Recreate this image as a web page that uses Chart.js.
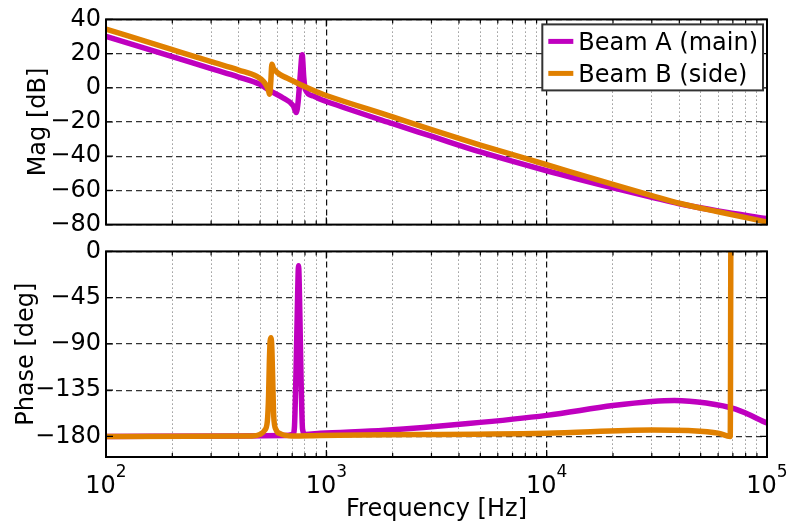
<!DOCTYPE html>
<html>
<head>
<meta charset="utf-8">
<title>Beam response</title>
<script src="https://cdn.jsdelivr.net/npm/chart.js@4.4.1/dist/chart.umd.min.js"></script>
<style>
  body { margin: 0; background: #fff; }
  #wrap { position: relative; width: 789px; height: 523px; }
  canvas { position: absolute; left: 0; }
  #magChart { top: 0; }
  #phaseChart { top: 232px; }
</style>
</head>
<body>
<div id="wrap">
  <canvas id="magChart" width="789" height="244"></canvas>
  <canvas id="phaseChart" width="789" height="291"></canvas>
</div>
<script>
// axis ticks
const decades = [100, 1000, 10000, 100000];
const magTicks = [-80, -60, -40, -20, 0, 20, 40];
const phaseTicks = [-180, -135, -90, -45, 0];

// Beam A (main)
const freqMagA = [100, 200, 300, 400, 500, 560, 637, 708, 730, 745, 760, 777, 790, 802, 873, 940, 1000,
  2000, 3000, 5000, 10000, 20000, 30000, 40000, 60000, 100000];
const magA = [30, 18.2, 11.2, 6.3, 2, -2, -6, -10.5, -14.5, -8, 6, 19.3, 6, -0.8, -4.8, -6.7, -8,
  -21, -28.3, -37.5, -48.5, -58.5, -64, -67.8, -72, -76.5];
const freqPhaseA = [100, 400, 650, 705, 716, 728, 738, 748, 758, 768, 780, 800, 940,
  1850, 4400, 10000, 20000, 30000, 38000, 53000, 72000, 100000];
const phaseA = [-180, -179.6, -179, -178, -172, -120, -60, -14, -60, -125, -173, -178, -177,
  -174, -167.5, -159.5, -150, -146, -145, -147.5, -153.5, -167];

// Beam B (side)
const freqMagB = [100, 200, 300, 400, 484, 518, 535, 546, 553, 560, 566, 575, 585, 617, 662, 761, 850, 940, 1000,
  2000, 3000, 5000, 10000, 20000, 30000, 40000, 60000, 100000];
const magB = [34.3, 22.3, 15.3, 10.4, 6.7, 3.8, 1.2, -1.5, -3.8, 4, 13.8, 11.5, 10.2, 7.7, 5.7, 2, -0.8, -3.2, -4.5,
  -17, -24.5, -33.5, -45, -56.5, -63, -67.5, -72.5, -78.5];
const freqPhaseB = [100, 460, 500, 525, 540, 547, 551, 556, 561, 566, 571, 577, 590, 620, 700, 940,
  10000, 30000, 44000, 60000, 68100, 68900, 100000];
const phaseB = [-180, -179.5, -178, -174, -165, -140, -110, -87, -84, -95, -125, -160, -173, -177.5, -179.5, -179,
  -176.8, -173.7, -174.3, -176.8, -180, 180, 179];

Chart.defaults.font.family = '"DejaVu Sans", sans-serif';
Chart.defaults.font.size = 24;
Chart.defaults.color = '#000';

const isDecade = v => v > 0 && Math.abs(Math.log10(v) - Math.round(Math.log10(v))) < 1e-9;

// 1..9 per decade for the log grid
const freqTicks = [];
decades.forEach((d, i) => {
  if (i === decades.length - 1) { freqTicks.push(d); return; }
  for (let k = 1; k < 10; k++) freqTicks.push(k * d);
});

const pts = (xs, ys) => xs.map((x, i) => ({x: x, y: ys[i]}));

function lineSet(label, color, xs, ys, order) {
  return {
    label: label,
    data: pts(xs, ys),
    borderColor: color,
    borderWidth: 5.5,
    pointRadius: 0,
    cubicInterpolationMode: 'monotone',
    order: order
  };
}

function freqAxis(height, withTitle) {
  return {
    type: 'logarithmic',
    min: 100,
    max: 100000,
    afterBuildTicks: axis => { axis.ticks = freqTicks.map(v => ({value: v, major: isDecade(v)})); },
    afterFit: axis => { axis.height = height; },
    ticks: {display: false},
    grid: {
      drawTicks: false,
      color: c => (c.tick && isDecade(c.tick.value)) ? '#111' : '#9a9a9a',
      lineWidth: c => (c.tick && isDecade(c.tick.value)) ? 1.2 : 1
    },
    border: {
      display: false,
      dash: c => (c.tick && isDecade(c.tick.value)) ? [6, 4] : [1.5, 2.5]
    },
    title: {
      display: withTitle,
      text: 'Frequency [Hz]',
      font: {size: 24, lineHeight: 1},
      padding: {top: 0, bottom: 1.3}
    }
  };
}

// titleGap: distance of the rotated title from the canvas edge
function levelAxis(min, max, ticks, title, titleGap) {
  return {
    min: min,
    max: max,
    afterBuildTicks: axis => { axis.ticks = ticks.map(v => ({value: v})); },
    afterFit: axis => { axis.width = 106; },
    ticks: {
      padding: 5,
      autoSkip: false,
      callback: v => v < 0 ? '\u2212' + Math.abs(v) : String(v)
    },
    grid: {drawTicks: false, color: '#333', lineWidth: 1.2},
    border: {display: false, dash: [6, 4]},
    title: {
      display: true,
      text: title,
      font: {size: 24, lineHeight: 1},
      padding: {top: titleGap, bottom: 0}
    }
  };
}

// box round the plot plus inward tick marks
const frame = {
  id: 'frame',
  afterDatasetsDraw(chart) {
    const {ctx, chartArea: a, scales} = chart;
    ctx.save();
    ctx.strokeStyle = '#000';
    ctx.lineWidth = 1.2;
    ctx.beginPath();
    scales.x.ticks.forEach(t => {
      const px = scales.x.getPixelForValue(t.value);
      const len = isDecade(t.value) ? 7 : 4;
      ctx.moveTo(px, a.bottom); ctx.lineTo(px, a.bottom - len);
      ctx.moveTo(px, a.top); ctx.lineTo(px, a.top + len);
    });
    scales.y.ticks.forEach(t => {
      const py = scales.y.getPixelForValue(t.value);
      ctx.moveTo(a.left, py); ctx.lineTo(a.left + 7, py);
      ctx.moveTo(a.right, py); ctx.lineTo(a.right - 7, py);
    });
    ctx.stroke();
    ctx.lineWidth = 2;
    ctx.strokeRect(a.left, a.top, a.right - a.left, a.bottom - a.top);
    ctx.restore();
  }
};

const legendBox = {
  id: 'legendBox',
  afterDraw(chart) {
    const {ctx, chartArea} = chart;
    const sets = chart.data.datasets;
    ctx.save();
    ctx.font = '24px "DejaVu Sans"';
    const textW = Math.max(...sets.map(d => ctx.measureText(d.label).width));
    const w = 6 + 25 + 5 + textW + 5;
    const h = 66;
    const x = chartArea.right - 4 - w;
    const y = chartArea.top + 5;
    ctx.fillStyle = '#fff';
    ctx.fillRect(x, y, w, h);
    ctx.lineWidth = 2;
    ctx.strokeStyle = '#333';
    ctx.strokeRect(x, y, w, h);
    sets.forEach((d, i) => {
      const cy = y + 17 + i * 32;
      ctx.strokeStyle = d.borderColor;
      ctx.lineWidth = 5;
      ctx.beginPath();
      ctx.moveTo(x + 6, cy);
      ctx.lineTo(x + 31, cy);
      ctx.stroke();
      ctx.fillStyle = '#000';
      ctx.textBaseline = 'alphabetic';
      ctx.fillText(d.label, x + 36, cy + 9);
    });
    ctx.restore();
  }
};

// 10^n labels under the phase plot
const powerLabels = {
  id: 'powerLabels',
  afterDraw(chart) {
    const {ctx, chartArea, scales: {x}} = chart;
    ctx.save();
    ctx.fillStyle = '#000';
    ctx.textBaseline = 'alphabetic';
    ctx.textAlign = 'left';
    const base = chartArea.bottom + 36;
    decades.forEach(v => {
      const exp = String(Math.round(Math.log10(v)));
      ctx.font = '24px "DejaVu Sans"';
      const wb = ctx.measureText('10').width;
      ctx.font = '17px "DejaVu Sans"';
      const we = ctx.measureText(exp).width;
      const left = x.getPixelForValue(v) - (wb + we) / 2;
      ctx.font = '24px "DejaVu Sans"';
      ctx.fillText('10', left, base);
      ctx.font = '17px "DejaVu Sans"';
      ctx.fillText(exp, left + wb, base - 16);
    });
    ctx.restore();
  }
};

const common = {
  responsive: false,
  animation: false,
  events: [],
  plugins: {legend: {display: false}, tooltip: {enabled: false}}
};

new Chart(document.getElementById('magChart'), {
  type: 'line',
  data: {
    datasets: [
      lineSet('Beam A (main)', '#bf00bf', freqMagA, magA, 1),
      lineSet('Beam B (side)', '#e08000', freqMagB, magB, 0)
    ]
  },
  options: Object.assign({}, common, {
    layout: {padding: {top: 17, right: 22, bottom: 0, left: 0}},
    scales: {
      x: freqAxis(18, false),
      y: levelAxis(-80, 40, magTicks, 'Mag [dB]', 27)
    }
  }),
  plugins: [frame, legendBox]
});

new Chart(document.getElementById('phaseChart'), {
  type: 'line',
  data: {
    datasets: [
      lineSet('Beam A (main)', '#bf00bf', freqPhaseA, phaseA, 1),
      lineSet('Beam B (side)', '#e08000', freqPhaseB, phaseB, 0)
    ]
  },
  options: Object.assign({}, common, {
    layout: {padding: {top: 16, right: 22, bottom: 0, left: 0}},
    scales: {
      x: freqAxis(66, true),
      y: levelAxis(-200, 0, phaseTicks, 'Phase [deg]', 15)
    }
  }),
  plugins: [frame, powerLabels]
});
</script>
</body>
</html>
